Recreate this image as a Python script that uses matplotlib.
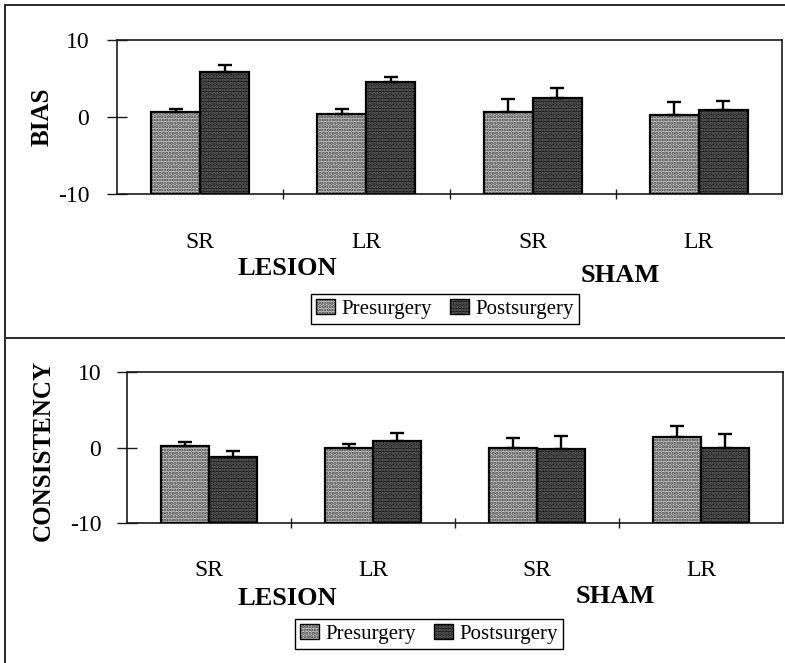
import matplotlib
matplotlib.use("Agg")
import matplotlib.pyplot as plt
import numpy as np
from matplotlib.patches import Patch
from matplotlib.lines import Line2D
from matplotlib.legend_handler import HandlerTuple

# ---- data -------------------------------------------------------------
categories = ["SR", "LR", "SR", "LR"]
group_names = ["LESION", "SHAM"]
series_names = ["Presurgery", "Postsurgery"]

bias_pre = [0.65, 0.4, 0.65, 0.3]
bias_pre_err = [0.4, 0.6, 1.7, 1.6]
bias_post = [5.8, 4.5, 2.5, 0.9]
bias_post_err = [1.0, 0.7, 1.3, 1.2]

cons_pre = [0.2, 0.0, 0.0, 1.4]
cons_pre_err = [0.5, 0.45, 1.3, 1.45]
cons_post = [-1.3, 0.9, -0.2, 0.0]
cons_post_err = [0.9, 1.0, 1.7, 1.75]

y_ticks = [-10, 0, 10]
y_tick_labels = ["-10", "0", "10"]
y_min, y_max = -10, 10

# ---- style ------------------------------------------------------------
SERIF = ["Liberation Serif", "DejaVu Serif"]
plt.rcParams["font.family"] = SERIF
plt.rcParams["hatch.linewidth"] = 1.6

PRE_FACE = "#d2d2d2"
PRE_DOT = "#3a3a3a"
POST_FACE = "#141414"
POST_DOT = "#6e6e6e"
INK = "#1a1a1a"
BAR_W = 0.295
HATCH = "....."

W, H = 785, 663
fig = plt.figure(figsize=(W / 100, H / 100), dpi=100)


def fx(px):
    return px / W


def fy(py):
    return 1 - py / H


def draw_panel(ax, pre, pre_err, post, post_err, ypad):
    x = np.arange(len(categories))
    pre = np.asarray(pre, dtype=float)
    post = np.asarray(post, dtype=float)

    # bars rise from the floor of the axis to their value
    for off, vals, face, dot in ((-BAR_W / 2, pre, PRE_FACE, PRE_DOT),
                                 (BAR_W / 2, post, POST_FACE, POST_DOT)):
        ax.bar(x + off, vals - y_min, bottom=y_min, width=BAR_W,
               facecolor=face, edgecolor=dot, hatch=HATCH,
               linewidth=0, zorder=2)
        ax.bar(x + off, vals - y_min, bottom=y_min, width=BAR_W,
               fill=False, edgecolor="black", linewidth=1.6, zorder=3)

    zeros = np.zeros(len(x))
    for off, vals, err in ((-BAR_W / 2, pre, pre_err),
                           (BAR_W / 2, post, post_err)):
        ax.errorbar(x + off, vals, yerr=[zeros, err], fmt="none",
                    ecolor="black", elinewidth=1.7, capsize=5, capthick=1.7,
                    zorder=4)

    ax.set_xlim(-0.5, len(categories) - 0.5)
    ax.set_ylim(y_min, y_max)

    ax.set_yticks(y_ticks)
    ax.set_yticklabels(y_tick_labels)
    ax.tick_params(axis="y", direction="inout", length=14, width=1.0,
                   color=INK, labelsize=17, pad=ypad)

    ax.set_xticks(x)
    ax.set_xticklabels(categories)
    ax.tick_params(axis="x", which="major", length=0, labelsize=17, pad=27)
    ax.set_xticks(x[:-1] + 0.5, minor=True)
    ax.tick_params(axis="x", which="minor", direction="inout", length=7,
                   width=1.0, color=INK)

    for s in ax.spines.values():
        s.set_linewidth(1.2)
        s.set_color(INK)


def add_legend(center_px):
    pre_fill = Patch(facecolor=PRE_FACE, edgecolor=PRE_DOT, hatch=HATCH,
                     linewidth=0)
    post_fill = Patch(facecolor=POST_FACE, edgecolor=POST_DOT, hatch=HATCH,
                      linewidth=0)
    edge = Patch(fill=False, edgecolor="black", linewidth=1.0)
    leg = fig.legend([(pre_fill, edge), (post_fill, edge)], series_names,
                     handler_map={tuple: HandlerTuple(ndivide=1, pad=0)},
                     loc="center",
                     bbox_to_anchor=(fx(center_px[0]), fy(center_px[1])),
                     ncol=2, fontsize=15, frameon=True, fancybox=False,
                     framealpha=1, edgecolor="black", borderpad=0.25,
                     handlelength=0.9, handleheight=0.75, handletextpad=0.3,
                     columnspacing=0.9, borderaxespad=0)
    leg.get_frame().set_linewidth(1.0)


# ---- top panel: BIAS --------------------------------------------------
ax1 = fig.add_axes([fx(117), fy(194), fx(782) - fx(117), fy(40) - fy(194)])
draw_panel(ax1, bias_pre, bias_pre_err, bias_post, bias_post_err, ypad=13)
fig.text(fx(42), fy(117), "BIAS", rotation=90, ha="center", va="center",
         fontsize=18, fontweight="bold")
fig.text(fx(287), fy(275), group_names[0], ha="center", va="baseline",
         fontsize=19, fontweight="bold")
fig.text(fx(620), fy(282), group_names[1], ha="center", va="baseline",
         fontsize=19, fontweight="bold")
add_legend((445, 309))

# ---- bottom panel: CONSISTENCY ---------------------------------------
ax2 = fig.add_axes([fx(127), fy(523), fx(783) - fx(127), fy(372) - fy(523)])
draw_panel(ax2, cons_pre, cons_pre_err, cons_post, cons_post_err, ypad=11.5)
fig.text(fx(43), fy(450), "CONSISTENCY", rotation=90, ha="center",
         va="center", fontsize=18, fontweight="bold")
fig.text(fx(287), fy(605), group_names[0], ha="center", va="baseline",
         fontsize=19, fontweight="bold")
fig.text(fx(615), fy(603), group_names[1], ha="center", va="baseline",
         fontsize=19, fontweight="bold")
add_legend((429, 634))

# ---- frame lines around and between the panels -----------------------
for xs, ys in [((fx(5), 1.0), (fy(5), fy(5))),
               ((fx(5), fx(5)), (fy(5), 0.0)),
               ((fx(5), 1.0), (fy(338), fy(338)))]:
    fig.add_artist(Line2D(xs, ys, transform=fig.transFigure,
                          color="#2a2a2a", linewidth=1.4))

fig.savefig("out.png", dpi=100)
